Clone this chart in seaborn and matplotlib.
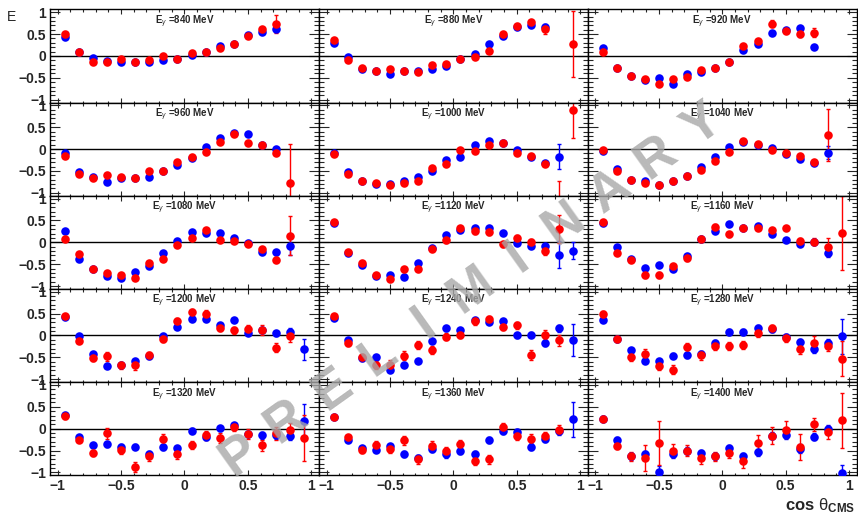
import numpy as np
import seaborn as sns
import matplotlib.pyplot as plt
from matplotlib.ticker import MultipleLocator, FixedLocator, FixedFormatter

nan = np.nan

# 18 bins in cos(theta_cms) from -1 to 1
cos_bins = [-0.944, -0.833, -0.722, -0.611, -0.500, -0.389, -0.278, -0.167, -0.056,
            0.056, 0.167, 0.278, 0.389, 0.500, 0.611, 0.722, 0.833, 0.944]

energies = [840, 880, 920, 960, 1000, 1040, 1080, 1120, 1160, 1200, 1240, 1280, 1320, 1360, 1400]

blue_840 = [0.44, 0.10, -0.04, -0.11, -0.14, -0.14, -0.13, -0.10, -0.08, 0.01, 0.10, 0.22, 0.27, 0.48, 0.54, 0.62, nan, nan]
red_840 = [0.49, 0.10, -0.15, -0.15, -0.08, -0.14, -0.10, -0.01, -0.08, 0.07, 0.08, 0.19, 0.27, 0.45, 0.62, 0.73, nan, nan]
blue_880 = [0.29, -0.02, -0.30, -0.35, -0.42, -0.35, -0.35, -0.29, -0.23, -0.06, 0.04, 0.28, 0.45, 0.67, 0.70, 0.67, nan, nan]
red_880 = [0.36, -0.09, -0.27, -0.35, -0.31, -0.35, -0.37, -0.20, -0.19, -0.06, -0.03, 0.11, 0.49, 0.68, 0.77, 0.61, nan, 0.27]
blue_920 = [0.19, -0.27, -0.45, -0.55, -0.51, -0.64, -0.42, -0.37, -0.27, -0.13, 0.13, 0.28, 0.52, 0.59, 0.63, 0.20, nan, nan]
red_920 = [0.08, -0.28, -0.46, -0.52, -0.64, -0.52, -0.48, -0.33, -0.27, -0.13, 0.22, 0.33, 0.73, 0.58, 0.51, 0.53, nan, nan]
blue_960 = [-0.08, -0.52, -0.64, -0.75, -0.66, -0.66, -0.63, -0.51, -0.36, -0.20, 0.04, 0.25, 0.36, 0.35, 0.10, 0.00, nan, nan]
red_960 = [-0.15, -0.58, -0.66, -0.59, -0.63, -0.66, -0.49, -0.51, -0.29, -0.19, -0.06, 0.17, 0.35, 0.14, 0.09, -0.08, -0.77, nan]
blue_1000 = [-0.08, -0.52, -0.72, -0.79, -0.79, -0.74, -0.64, -0.50, -0.25, -0.18, 0.09, 0.19, 0.13, -0.03, -0.18, -0.32, -0.17, nan]
red_1000 = [-0.12, -0.57, -0.72, -0.78, -0.82, -0.77, -0.72, -0.44, -0.33, -0.01, -0.05, 0.10, 0.13, -0.10, -0.16, -0.34, -1.30, 0.90]
blue_1040 = [-0.05, -0.45, -0.70, -0.74, -0.82, -0.72, -0.62, -0.41, -0.19, 0.04, 0.17, 0.10, 0.02, -0.12, -0.23, -0.31, -0.08, nan]
red_1040 = [-0.01, -0.51, -0.70, -0.77, -0.83, -0.73, -0.62, -0.48, -0.27, -0.07, 0.18, 0.11, -0.01, -0.09, -0.16, -0.30, 0.32, nan]
blue_1080 = [0.25, -0.38, -0.62, -0.78, -0.82, -0.69, -0.54, -0.25, 0.02, 0.24, 0.22, 0.22, 0.10, -0.02, -0.22, -0.23, -0.08, nan]
red_1080 = [0.08, -0.27, -0.62, -0.71, -0.75, -0.82, -0.48, -0.38, -0.07, 0.10, 0.29, 0.06, 0.04, -0.03, -0.15, -0.40, 0.15, nan]
blue_1120 = [0.43, -0.25, -0.52, -0.77, -0.75, -0.79, -0.48, -0.13, 0.16, 0.29, 0.33, 0.33, 0.22, -0.01, -0.09, -0.08, -0.28, -0.19]
red_1120 = [0.46, -0.23, -0.48, -0.75, -0.83, -0.62, -0.60, -0.15, 0.05, 0.32, 0.25, 0.23, -0.05, 0.10, 0.01, -0.21, 0.31, nan]
blue_1160 = [0.44, -0.11, -0.38, -0.59, -0.52, -0.60, -0.32, 0.08, 0.26, 0.42, 0.33, 0.38, 0.18, 0.06, -0.03, 0.01, -0.25, nan]
red_1160 = [0.46, -0.24, -0.40, -0.75, -0.75, -0.55, -0.36, 0.08, 0.35, 0.18, 0.33, 0.33, 0.27, 0.33, 0.04, 0.01, -0.11, 0.21]
blue_1200 = [0.42, -0.01, -0.42, -0.69, -0.68, -0.58, -0.48, -0.02, 0.20, 0.37, 0.37, 0.25, 0.36, 0.06, 0.12, 0.05, 0.08, -0.32]
red_1200 = [0.45, -0.13, -0.52, -0.48, -0.68, -0.68, -0.45, -0.08, 0.33, 0.53, 0.50, 0.18, 0.12, 0.15, 0.13, -0.28, -0.02, nan]
blue_1240 = [0.41, -0.11, -0.52, -0.50, -0.78, -0.68, -0.58, -0.12, 0.16, 0.13, 0.35, 0.31, 0.33, 0.00, 0.02, -0.18, 0.16, -0.11]
red_1240 = [0.44, -0.17, -0.50, -0.68, -0.67, -0.46, -0.22, -0.33, -0.03, 0.02, 0.33, 0.37, 0.20, 0.23, -0.45, 0.02, -0.11, nan]
blue_1280 = [0.35, -0.08, -0.34, -0.58, -0.59, -0.46, -0.45, -0.42, -0.17, 0.08, 0.08, 0.18, 0.15, -0.03, -0.16, -0.32, -0.17, -0.02]
red_1280 = [0.50, -0.08, -0.50, -0.42, -0.70, -0.78, -0.27, -0.45, -0.25, -0.25, -0.22, 0.05, 0.16, -0.05, -0.32, -0.17, -0.25, -0.53]
blue_1320 = [0.32, -0.20, -0.38, -0.36, -0.42, -0.41, -0.58, -0.43, -0.45, -0.05, -0.20, 0.01, 0.08, -0.13, -0.15, -0.15, -0.17, 0.18]
red_1320 = [0.29, -0.25, -0.55, -0.11, -0.48, -0.88, -0.63, -0.23, -0.59, -0.37, -0.15, -0.21, 0.03, -0.12, -0.38, -0.11, -0.02, -0.21]
blue_1360 = [0.26, -0.25, -0.45, -0.48, -0.40, -0.58, -0.67, -0.46, -0.59, -0.52, -0.59, -0.25, -0.05, -0.08, -0.41, -0.23, -0.06, 0.22]
red_1360 = [0.26, -0.20, -0.48, -0.38, -0.46, -0.27, -0.70, -0.39, -0.51, -0.36, -0.73, -0.70, 0.03, -0.16, -0.24, -0.17, -0.02, nan]
blue_1400 = [0.23, -0.25, -0.63, -0.59, -1.00, -0.58, -0.50, -0.56, -0.63, -0.45, -0.63, -0.54, -0.16, -0.15, -0.46, -0.19, 0.00, -1.02]
red_1400 = [0.23, -0.39, -0.63, -0.67, -0.33, -0.50, -0.50, -0.67, -0.63, -0.56, -0.75, -0.33, -0.16, -0.02, -0.42, 0.10, -0.08, 0.19]

# statistical errors
blue_err_840 = [0.02, 0.02, 0.02, 0.02, 0.02, 0.02, 0.02, 0.02, 0.02, 0.02, 0.02, 0.03, 0.03, 0.03, 0.04, 0.08, nan, nan]
red_err_840 = [0.02, 0.02, 0.02, 0.02, 0.02, 0.02, 0.02, 0.02, 0.02, 0.02, 0.03, 0.03, 0.03, 0.04, 0.05, 0.20, nan, nan]
blue_err_880 = [0.02, 0.02, 0.02, 0.02, 0.02, 0.02, 0.02, 0.02, 0.02, 0.02, 0.02, 0.03, 0.03, 0.03, 0.04, 0.06, nan, nan]
red_err_880 = [0.02, 0.02, 0.02, 0.02, 0.02, 0.02, 0.02, 0.02, 0.02, 0.02, 0.03, 0.03, 0.03, 0.04, 0.06, 0.10, nan, 0.76]
blue_err_920 = [0.02, 0.02, 0.02, 0.02, 0.02, 0.02, 0.02, 0.02, 0.02, 0.02, 0.03, 0.03, 0.03, 0.04, 0.04, 0.05, nan, nan]
red_err_920 = [0.02, 0.02, 0.02, 0.02, 0.02, 0.02, 0.02, 0.02, 0.02, 0.02, 0.03, 0.04, 0.08, 0.05, 0.07, 0.10, nan, nan]
blue_err_960 = [0.02, 0.02, 0.02, 0.02, 0.02, 0.02, 0.02, 0.02, 0.02, 0.02, 0.02, 0.03, 0.03, 0.03, 0.03, 0.04, nan, nan]
red_err_960 = [0.03, 0.03, 0.02, 0.02, 0.02, 0.02, 0.02, 0.02, 0.02, 0.02, 0.03, 0.03, 0.03, 0.03, 0.04, 0.06, 0.88, nan]
blue_err_1000 = [0.02, 0.02, 0.02, 0.02, 0.02, 0.02, 0.02, 0.02, 0.02, 0.02, 0.02, 0.03, 0.03, 0.03, 0.03, 0.04, 0.29, nan]
red_err_1000 = [0.03, 0.03, 0.02, 0.02, 0.02, 0.02, 0.02, 0.02, 0.02, 0.02, 0.03, 0.03, 0.03, 0.03, 0.04, 0.05, 0.58, 0.64]
blue_err_1040 = [0.02, 0.02, 0.02, 0.02, 0.02, 0.02, 0.02, 0.02, 0.02, 0.02, 0.02, 0.03, 0.03, 0.03, 0.03, 0.04, 0.15, nan]
red_err_1040 = [0.03, 0.03, 0.02, 0.02, 0.02, 0.02, 0.02, 0.02, 0.02, 0.02, 0.03, 0.03, 0.03, 0.03, 0.04, 0.05, 0.60, nan]
blue_err_1080 = [0.03, 0.03, 0.03, 0.03, 0.03, 0.03, 0.03, 0.03, 0.03, 0.03, 0.03, 0.03, 0.03, 0.03, 0.04, 0.05, 0.22, nan]
red_err_1080 = [0.04, 0.04, 0.03, 0.04, 0.04, 0.04, 0.04, 0.04, 0.04, 0.04, 0.04, 0.04, 0.04, 0.04, 0.05, 0.06, 0.45, nan]
blue_err_1120 = [0.03, 0.03, 0.03, 0.03, 0.03, 0.03, 0.03, 0.03, 0.03, 0.03, 0.03, 0.03, 0.04, 0.04, 0.04, 0.05, 0.30, 0.20]
red_err_1120 = [0.05, 0.04, 0.05, 0.05, 0.05, 0.06, 0.06, 0.06, 0.06, 0.06, 0.06, 0.06, 0.06, 0.06, 0.06, 0.08, 0.32, nan]
blue_err_1160 = [0.03, 0.03, 0.03, 0.03, 0.03, 0.03, 0.03, 0.03, 0.03, 0.03, 0.03, 0.03, 0.03, 0.04, 0.04, 0.05, 0.08, nan]
red_err_1160 = [0.05, 0.05, 0.05, 0.06, 0.06, 0.06, 0.06, 0.06, 0.06, 0.06, 0.05, 0.05, 0.05, 0.05, 0.06, 0.08, 0.20, 0.85]
blue_err_1200 = [0.03, 0.03, 0.04, 0.04, 0.04, 0.04, 0.04, 0.04, 0.04, 0.04, 0.04, 0.04, 0.04, 0.04, 0.05, 0.06, 0.10, 0.25]
red_err_1200 = [0.05, 0.05, 0.07, 0.10, 0.08, 0.10, 0.08, 0.08, 0.08, 0.08, 0.08, 0.08, 0.08, 0.08, 0.12, 0.10, 0.13, nan]
blue_err_1240 = [0.04, 0.04, 0.05, 0.05, 0.05, 0.05, 0.05, 0.05, 0.05, 0.05, 0.05, 0.05, 0.05, 0.05, 0.06, 0.06, 0.08, 0.37]
red_err_1240 = [0.06, 0.06, 0.08, 0.09, 0.10, 0.10, 0.10, 0.10, 0.08, 0.08, 0.08, 0.08, 0.08, 0.08, 0.12, 0.10, 0.12, nan]
blue_err_1280 = [0.04, 0.04, 0.06, 0.06, 0.06, 0.06, 0.06, 0.06, 0.06, 0.06, 0.06, 0.06, 0.06, 0.06, 0.07, 0.08, 0.08, 0.40]
red_err_1280 = [0.06, 0.06, 0.08, 0.10, 0.10, 0.10, 0.10, 0.10, 0.09, 0.09, 0.09, 0.09, 0.09, 0.09, 0.10, 0.16, 0.10, 0.40]
blue_err_1320 = [0.04, 0.04, 0.06, 0.06, 0.06, 0.06, 0.06, 0.06, 0.06, 0.06, 0.06, 0.06, 0.06, 0.07, 0.08, 0.08, 0.08, 0.38]
red_err_1320 = [0.06, 0.06, 0.07, 0.13, 0.10, 0.12, 0.10, 0.11, 0.10, 0.09, 0.10, 0.11, 0.09, 0.12, 0.12, 0.14, 0.15, 0.53]
blue_err_1360 = [0.04, 0.05, 0.06, 0.06, 0.06, 0.07, 0.07, 0.07, 0.07, 0.07, 0.07, 0.07, 0.07, 0.07, 0.08, 0.08, 0.08, 0.40]
red_err_1360 = [0.05, 0.06, 0.08, 0.10, 0.10, 0.10, 0.10, 0.10, 0.10, 0.10, 0.10, 0.10, 0.10, 0.10, 0.12, 0.10, 0.10, nan]
blue_err_1400 = [0.05, 0.06, 0.08, 0.08, 0.15, 0.08, 0.08, 0.08, 0.08, 0.08, 0.08, 0.08, 0.08, 0.08, 0.10, 0.08, 0.08, 0.20]
red_err_1400 = [0.06, 0.08, 0.10, 0.30, 0.50, 0.15, 0.12, 0.14, 0.10, 0.12, 0.15, 0.18, 0.20, 0.20, 0.30, 0.15, 0.15, 0.63]

blue_sets = [blue_840, blue_880, blue_920, blue_960, blue_1000, blue_1040, blue_1080, blue_1120,
             blue_1160, blue_1200, blue_1240, blue_1280, blue_1320, blue_1360, blue_1400]
red_sets = [red_840, red_880, red_920, red_960, red_1000, red_1040, red_1080, red_1120,
            red_1160, red_1200, red_1240, red_1280, red_1320, red_1360, red_1400]
blue_errs = [blue_err_840, blue_err_880, blue_err_920, blue_err_960, blue_err_1000, blue_err_1040,
             blue_err_1080, blue_err_1120, blue_err_1160, blue_err_1200, blue_err_1240, blue_err_1280,
             blue_err_1320, blue_err_1360, blue_err_1400]
red_errs = [red_err_840, red_err_880, red_err_920, red_err_960, red_err_1000, red_err_1040,
            red_err_1080, red_err_1120, red_err_1160, red_err_1200, red_err_1240, red_err_1280,
            red_err_1320, red_err_1360, red_err_1400]

tick_vals = [-1, -0.5, 0, 0.5, 1]
tick_text = ["\u22121", "\u22120.5", "0", "0.5", "1"]

sns.set_style("ticks")
plt.rcParams["font.family"] = ["Liberation Sans", "DejaVu Sans"]
plt.rcParams["mathtext.fontset"] = "custom"
plt.rcParams["mathtext.rm"] = "Liberation Sans"
plt.rcParams["mathtext.it"] = "Liberation Sans:italic"
plt.rcParams["mathtext.bf"] = "Liberation Sans:bold"

fig = plt.figure(figsize=(8.58, 5.17), dpi=100)
gs = fig.add_gridspec(5, 3, left=0.0583, right=0.9985, top=0.982, bottom=0.0807,
                      wspace=0, hspace=0)

x = np.array(cos_bins)
for k, energy in enumerate(energies):
    row, col = divmod(k, 3)
    ax = fig.add_subplot(gs[row, col])
    ax.axhline(0, color="black", lw=1, zorder=1)

    for vals, errs, color in [(blue_sets[k], blue_errs[k], "#0000ff"),
                              (red_sets[k], red_errs[k], "#ff0000")]:
        y = np.array(vals, dtype=float)
        e = np.array(errs, dtype=float)
        ok = ~np.isnan(y)
        ax.errorbar(x[ok], y[ok], yerr=e[ok], fmt="none", ecolor=color,
                    elinewidth=1, capsize=1.5, capthick=1, zorder=2)
        sns.scatterplot(x=x[ok], y=y[ok], color=color, s=38, linewidth=0,
                        ax=ax, zorder=3, legend=False)

    ax.set_xlim(-1.06, 1.06)
    ax.set_ylim(-1.065, 1.065)
    ax.xaxis.set_major_locator(FixedLocator(tick_vals))
    ax.yaxis.set_major_locator(FixedLocator(tick_vals))
    ax.xaxis.set_minor_locator(MultipleLocator(0.1))
    ax.yaxis.set_minor_locator(MultipleLocator(0.1))
    ax.tick_params(which="both", direction="in", top=True, right=True, width=0.8)
    ax.tick_params(axis="y", which="major", length=7)
    ax.tick_params(axis="y", which="minor", length=3.5)
    ax.tick_params(axis="x", which="major", length=3.5)
    ax.tick_params(axis="x", which="minor", length=1.8)
    ax.tick_params(labelsize=10, pad=3)

    if col == 0:
        ax.yaxis.set_major_formatter(FixedFormatter(tick_text))
        for lab in ax.get_yticklabels():
            lab.set_fontweight("bold")
    else:
        ax.set_yticklabels([])
    if row == 4:
        ax.xaxis.set_major_formatter(FixedFormatter(tick_text))
        for lab in ax.get_xticklabels():
            lab.set_fontweight("bold")
    else:
        ax.set_xticklabels([])

    for sp in ax.spines.values():
        sp.set_linewidth(1)
        sp.set_color("black")
    ax.set_xlabel("")
    ax.set_ylabel("")
    ax.text(0.0, 0.73, r"E$_{\gamma}$ =%d MeV" % energy, ha="center", va="baseline",
            fontsize=7, fontweight="bold", zorder=5)

fig.text(0.008, 0.968, "E", fontsize=10, ha="left", va="center")
fig.text(0.997, 0.013, r"cos $\mathrm{\theta}_{\mathbf{CMS}}$", fontsize=12, fontweight="bold",
         ha="right", va="baseline")

# PRELIMINARY watermark, letters spread along a slanted line
word = "PRELIMINARY"
cx, cy = 471.0, 517 - 290.0
ang = np.deg2rad(35.5)
pitch = 56.8
for i, ch in enumerate(word):
    t = (i - (len(word) - 1) / 2) * pitch
    px = cx + t * np.cos(ang)
    py = cy + t * np.sin(ang)
    fig.text(px / 858, py / 517, ch, rotation=35.5, fontsize=38, fontweight="bold",
             color="#a8a8a8", alpha=0.8, ha="center", va="center", zorder=10,
             rotation_mode="anchor")

fig.savefig("out.png", dpi=100)
